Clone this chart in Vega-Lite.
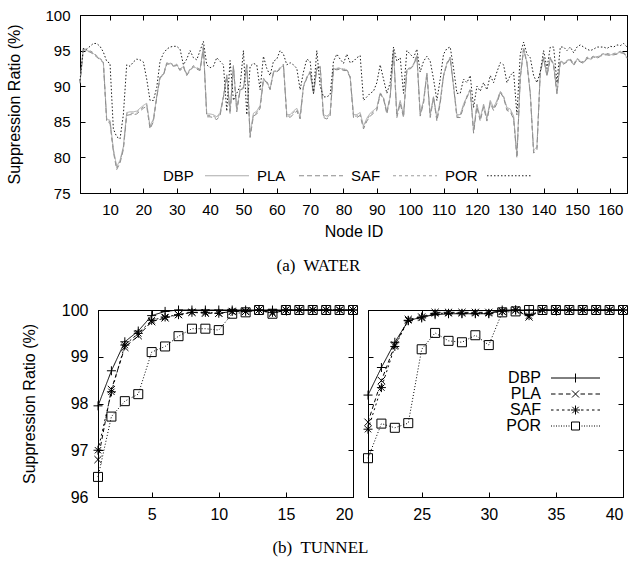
{
  "$schema": "https://vega.github.io/schema/vega-lite/v6.json",
  "background": "white",
  "padding": {"left": 6, "top": 7, "right": 4, "bottom": 4},
  "datasets": {
    "water": [
      {"n":1,"DBP":90.5,"PLA":90.4,"SAF":90.6,"POR":90.8},
      {"n":2,"DBP":95.3,"PLA":95.2,"SAF":95.4,"POR":95.3},
      {"n":3,"DBP":95.0,"PLA":94.9,"SAF":95.1,"POR":95.2},
      {"n":4,"DBP":94.9,"PLA":94.8,"SAF":95.0,"POR":95.6},
      {"n":5,"DBP":94.6,"PLA":94.5,"SAF":94.7,"POR":96.0},
      {"n":6,"DBP":94.2,"PLA":94.1,"SAF":94.3,"POR":96.0},
      {"n":7,"DBP":93.8,"PLA":93.7,"SAF":93.9,"POR":95.6},
      {"n":8,"DBP":93.4,"PLA":93.3,"SAF":93.5,"POR":94.8},
      {"n":9,"DBP":85.4,"PLA":85.0,"SAF":85.2,"POR":93.5},
      {"n":10,"DBP":85.2,"PLA":84.8,"SAF":85.0,"POR":93.2},
      {"n":11,"DBP":81.2,"PLA":80.8,"SAF":81.0,"POR":84.0},
      {"n":12,"DBP":78.7,"PLA":78.3,"SAF":78.5,"POR":82.9},
      {"n":13,"DBP":79.6,"PLA":79.2,"SAF":79.4,"POR":82.6},
      {"n":14,"DBP":81.5,"PLA":81.1,"SAF":81.3,"POR":86.0},
      {"n":15,"DBP":86.3,"PLA":85.9,"SAF":86.1,"POR":93.0},
      {"n":16,"DBP":86.4,"PLA":86.0,"SAF":86.2,"POR":92.8},
      {"n":17,"DBP":86.4,"PLA":86.0,"SAF":86.2,"POR":93.4},
      {"n":18,"DBP":86.5,"PLA":86.1,"SAF":86.3,"POR":93.8},
      {"n":19,"DBP":86.9,"PLA":86.5,"SAF":86.7,"POR":93.7},
      {"n":20,"DBP":87.3,"PLA":86.9,"SAF":87.1,"POR":93.4},
      {"n":21,"DBP":87.6,"PLA":87.2,"SAF":87.4,"POR":91.0},
      {"n":22,"DBP":84.4,"PLA":84.0,"SAF":84.2,"POR":88.0},
      {"n":23,"DBP":85.4,"PLA":85.0,"SAF":85.2,"POR":88.0},
      {"n":24,"DBP":88.5,"PLA":88.4,"SAF":88.6,"POR":89.8},
      {"n":25,"DBP":91.3,"PLA":91.2,"SAF":91.4,"POR":93.5},
      {"n":26,"DBP":91.6,"PLA":91.5,"SAF":91.7,"POR":94.6},
      {"n":27,"DBP":93.2,"PLA":93.1,"SAF":93.3,"POR":95.2},
      {"n":28,"DBP":93.2,"PLA":93.1,"SAF":93.3,"POR":95.5},
      {"n":29,"DBP":92.9,"PLA":92.8,"SAF":93.0,"POR":95.6},
      {"n":30,"DBP":93.0,"PLA":92.9,"SAF":93.1,"POR":95.6},
      {"n":31,"DBP":92.3,"PLA":92.2,"SAF":92.4,"POR":95.2},
      {"n":32,"DBP":92.8,"PLA":92.7,"SAF":92.9,"POR":93.0},
      {"n":33,"DBP":91.6,"PLA":91.5,"SAF":91.7,"POR":93.8},
      {"n":34,"DBP":92.3,"PLA":92.2,"SAF":92.4,"POR":95.0},
      {"n":35,"DBP":92.8,"PLA":92.7,"SAF":92.9,"POR":94.0},
      {"n":36,"DBP":92.5,"PLA":92.4,"SAF":92.6,"POR":93.7},
      {"n":37,"DBP":92.3,"PLA":92.2,"SAF":92.4,"POR":95.0},
      {"n":38,"DBP":95.5,"PLA":95.4,"SAF":95.6,"POR":96.3},
      {"n":39,"DBP":86.1,"PLA":85.7,"SAF":85.9,"POR":93.0},
      {"n":40,"DBP":86.1,"PLA":85.7,"SAF":85.9,"POR":92.6},
      {"n":41,"DBP":86.0,"PLA":85.6,"SAF":85.8,"POR":92.8},
      {"n":42,"DBP":85.7,"PLA":85.3,"SAF":85.5,"POR":94.0},
      {"n":43,"DBP":86.3,"PLA":85.9,"SAF":86.1,"POR":93.5},
      {"n":44,"DBP":88.5,"PLA":88.4,"SAF":88.6,"POR":93.0},
      {"n":45,"DBP":91.5,"PLA":91.4,"SAF":91.6,"POR":86.5},
      {"n":46,"DBP":86.5,"PLA":86.1,"SAF":86.3,"POR":93.6},
      {"n":47,"DBP":92.8,"PLA":92.7,"SAF":92.9,"POR":88.0},
      {"n":48,"DBP":86.8,"PLA":86.4,"SAF":86.6,"POR":89.0},
      {"n":49,"DBP":89.5,"PLA":89.4,"SAF":89.6,"POR":90.0},
      {"n":50,"DBP":89.8,"PLA":89.7,"SAF":89.9,"POR":95.0},
      {"n":51,"DBP":93.0,"PLA":92.9,"SAF":93.1,"POR":86.0},
      {"n":52,"DBP":83.2,"PLA":82.8,"SAF":83.0,"POR":92.8},
      {"n":53,"DBP":86.2,"PLA":85.8,"SAF":86.0,"POR":93.2},
      {"n":54,"DBP":86.5,"PLA":86.1,"SAF":86.3,"POR":93.0},
      {"n":55,"DBP":87.3,"PLA":86.9,"SAF":87.1,"POR":89.5},
      {"n":56,"DBP":91.0,"PLA":90.9,"SAF":91.1,"POR":94.2},
      {"n":57,"DBP":90.6,"PLA":90.5,"SAF":90.7,"POR":92.5},
      {"n":58,"DBP":89.6,"PLA":89.5,"SAF":89.7,"POR":91.5},
      {"n":59,"DBP":92.0,"PLA":91.9,"SAF":92.1,"POR":93.5},
      {"n":60,"DBP":92.1,"PLA":92.0,"SAF":92.2,"POR":93.8},
      {"n":61,"DBP":92.5,"PLA":92.4,"SAF":92.6,"POR":95.0},
      {"n":62,"DBP":93.0,"PLA":92.9,"SAF":93.1,"POR":94.5},
      {"n":63,"DBP":86.0,"PLA":85.6,"SAF":85.8,"POR":93.0},
      {"n":64,"DBP":86.0,"PLA":85.6,"SAF":85.8,"POR":93.3},
      {"n":65,"DBP":86.5,"PLA":86.1,"SAF":86.3,"POR":93.0},
      {"n":66,"DBP":86.9,"PLA":86.5,"SAF":86.7,"POR":92.5},
      {"n":67,"DBP":85.8,"PLA":85.4,"SAF":85.6,"POR":89.5},
      {"n":68,"DBP":90.0,"PLA":89.9,"SAF":90.1,"POR":92.0},
      {"n":69,"DBP":91.2,"PLA":91.1,"SAF":91.3,"POR":93.8},
      {"n":70,"DBP":92.0,"PLA":91.9,"SAF":92.1,"POR":93.5},
      {"n":71,"DBP":89.0,"PLA":88.9,"SAF":89.1,"POR":89.0},
      {"n":72,"DBP":92.5,"PLA":92.4,"SAF":92.6,"POR":95.0},
      {"n":73,"DBP":92.8,"PLA":92.7,"SAF":92.9,"POR":90.0},
      {"n":74,"DBP":86.0,"PLA":85.6,"SAF":85.8,"POR":88.5},
      {"n":75,"DBP":85.8,"PLA":85.4,"SAF":85.6,"POR":88.5},
      {"n":76,"DBP":86.2,"PLA":85.8,"SAF":86.0,"POR":88.8},
      {"n":77,"DBP":92.5,"PLA":92.4,"SAF":92.6,"POR":93.5},
      {"n":78,"DBP":92.4,"PLA":92.3,"SAF":92.5,"POR":94.5},
      {"n":79,"DBP":92.5,"PLA":92.4,"SAF":92.6,"POR":93.8},
      {"n":80,"DBP":92.3,"PLA":92.2,"SAF":92.4,"POR":93.2},
      {"n":81,"DBP":92.3,"PLA":92.2,"SAF":92.4,"POR":94.5},
      {"n":82,"DBP":91.3,"PLA":91.2,"SAF":91.4,"POR":93.3},
      {"n":83,"DBP":86.0,"PLA":85.6,"SAF":85.8,"POR":93.5},
      {"n":84,"DBP":86.0,"PLA":85.6,"SAF":85.8,"POR":94.0},
      {"n":85,"DBP":86.3,"PLA":85.9,"SAF":86.1,"POR":94.3},
      {"n":86,"DBP":84.4,"PLA":84.0,"SAF":84.2,"POR":88.0},
      {"n":87,"DBP":85.5,"PLA":85.1,"SAF":85.3,"POR":88.5},
      {"n":88,"DBP":86.2,"PLA":85.8,"SAF":86.0,"POR":89.0},
      {"n":89,"DBP":86.6,"PLA":86.2,"SAF":86.4,"POR":89.3},
      {"n":90,"DBP":87.0,"PLA":86.6,"SAF":86.8,"POR":90.5},
      {"n":91,"DBP":89.0,"PLA":88.9,"SAF":89.1,"POR":93.0},
      {"n":92,"DBP":88.3,"PLA":88.2,"SAF":88.4,"POR":91.0},
      {"n":93,"DBP":86.5,"PLA":86.1,"SAF":86.3,"POR":89.0},
      {"n":94,"DBP":88.5,"PLA":88.4,"SAF":88.6,"POR":90.5},
      {"n":95,"DBP":95.0,"PLA":94.9,"SAF":95.1,"POR":95.5},
      {"n":96,"DBP":86.0,"PLA":85.6,"SAF":85.8,"POR":93.5},
      {"n":97,"DBP":88.0,"PLA":87.6,"SAF":87.8,"POR":94.0},
      {"n":98,"DBP":86.0,"PLA":85.6,"SAF":85.8,"POR":89.0},
      {"n":99,"DBP":92.3,"PLA":92.2,"SAF":92.4,"POR":95.0},
      {"n":100,"DBP":92.5,"PLA":92.4,"SAF":92.6,"POR":94.5},
      {"n":101,"DBP":93.0,"PLA":92.9,"SAF":93.1,"POR":94.0},
      {"n":102,"DBP":94.3,"PLA":94.2,"SAF":94.4,"POR":95.2},
      {"n":103,"DBP":86.2,"PLA":85.8,"SAF":86.0,"POR":92.0},
      {"n":104,"DBP":88.0,"PLA":87.6,"SAF":87.8,"POR":93.5},
      {"n":105,"DBP":91.8,"PLA":91.7,"SAF":91.9,"POR":94.2},
      {"n":106,"DBP":86.0,"PLA":85.6,"SAF":85.8,"POR":93.5},
      {"n":107,"DBP":88.5,"PLA":88.4,"SAF":88.6,"POR":91.0},
      {"n":108,"DBP":85.5,"PLA":85.1,"SAF":85.3,"POR":88.0},
      {"n":109,"DBP":88.0,"PLA":87.6,"SAF":87.8,"POR":91.0},
      {"n":110,"DBP":91.5,"PLA":91.4,"SAF":91.6,"POR":94.5},
      {"n":111,"DBP":93.2,"PLA":93.1,"SAF":93.3,"POR":95.3},
      {"n":112,"DBP":94.0,"PLA":93.9,"SAF":94.1,"POR":95.5},
      {"n":113,"DBP":90.0,"PLA":89.9,"SAF":90.1,"POR":92.5},
      {"n":114,"DBP":86.0,"PLA":85.6,"SAF":85.8,"POR":89.0},
      {"n":115,"DBP":86.0,"PLA":85.6,"SAF":85.8,"POR":89.0},
      {"n":116,"DBP":87.5,"PLA":87.1,"SAF":87.3,"POR":91.0},
      {"n":117,"DBP":88.5,"PLA":88.4,"SAF":88.6,"POR":90.5},
      {"n":118,"DBP":89.5,"PLA":89.4,"SAF":89.6,"POR":91.5},
      {"n":119,"DBP":83.8,"PLA":83.4,"SAF":83.6,"POR":87.0},
      {"n":120,"DBP":87.5,"PLA":87.1,"SAF":87.3,"POR":90.0},
      {"n":121,"DBP":85.5,"PLA":85.1,"SAF":85.3,"POR":89.3},
      {"n":122,"DBP":87.5,"PLA":87.1,"SAF":87.3,"POR":90.5},
      {"n":123,"DBP":85.5,"PLA":85.1,"SAF":85.3,"POR":89.5},
      {"n":124,"DBP":88.0,"PLA":87.6,"SAF":87.8,"POR":91.5},
      {"n":125,"DBP":87.0,"PLA":86.6,"SAF":86.8,"POR":90.5},
      {"n":126,"DBP":88.0,"PLA":87.6,"SAF":87.8,"POR":92.0},
      {"n":127,"DBP":89.2,"PLA":89.1,"SAF":89.3,"POR":93.3},
      {"n":128,"DBP":88.5,"PLA":88.4,"SAF":88.6,"POR":93.0},
      {"n":129,"DBP":87.0,"PLA":86.6,"SAF":86.8,"POR":90.5},
      {"n":130,"DBP":86.8,"PLA":86.4,"SAF":86.6,"POR":91.5},
      {"n":131,"DBP":85.8,"PLA":85.4,"SAF":85.6,"POR":92.0},
      {"n":132,"DBP":80.3,"PLA":79.9,"SAF":80.1,"POR":86.0},
      {"n":133,"DBP":91.2,"PLA":91.1,"SAF":91.3,"POR":94.5},
      {"n":134,"DBP":95.3,"PLA":95.2,"SAF":95.4,"POR":96.2},
      {"n":135,"DBP":93.3,"PLA":93.2,"SAF":93.4,"POR":94.5},
      {"n":136,"DBP":89.0,"PLA":88.9,"SAF":89.1,"POR":94.0},
      {"n":137,"DBP":81.0,"PLA":80.6,"SAF":80.8,"POR":91.5},
      {"n":138,"DBP":81.5,"PLA":81.1,"SAF":81.3,"POR":90.5},
      {"n":139,"DBP":92.0,"PLA":91.9,"SAF":92.1,"POR":92.0},
      {"n":140,"DBP":94.0,"PLA":93.9,"SAF":94.1,"POR":95.0},
      {"n":141,"DBP":91.5,"PLA":91.4,"SAF":91.6,"POR":92.5},
      {"n":142,"DBP":94.0,"PLA":93.9,"SAF":94.1,"POR":95.5},
      {"n":143,"DBP":93.0,"PLA":92.9,"SAF":93.1,"POR":95.5},
      {"n":144,"DBP":89.0,"PLA":88.9,"SAF":89.1,"POR":90.5},
      {"n":145,"DBP":93.5,"PLA":93.4,"SAF":93.6,"POR":95.5},
      {"n":146,"DBP":93.2,"PLA":93.1,"SAF":93.3,"POR":95.5},
      {"n":147,"DBP":93.5,"PLA":93.4,"SAF":93.6,"POR":95.0},
      {"n":148,"DBP":93.8,"PLA":93.7,"SAF":93.9,"POR":95.5},
      {"n":149,"DBP":93.0,"PLA":92.9,"SAF":93.1,"POR":94.7},
      {"n":150,"DBP":93.8,"PLA":93.7,"SAF":93.9,"POR":95.5},
      {"n":151,"DBP":93.5,"PLA":93.4,"SAF":93.6,"POR":95.8},
      {"n":152,"DBP":93.3,"PLA":93.2,"SAF":93.4,"POR":95.5},
      {"n":153,"DBP":94.0,"PLA":93.9,"SAF":94.1,"POR":95.2},
      {"n":154,"DBP":93.8,"PLA":93.7,"SAF":93.9,"POR":95.0},
      {"n":155,"DBP":94.2,"PLA":94.1,"SAF":94.3,"POR":95.2},
      {"n":156,"DBP":94.0,"PLA":93.9,"SAF":94.1,"POR":95.5},
      {"n":157,"DBP":94.3,"PLA":94.2,"SAF":94.4,"POR":95.5},
      {"n":158,"DBP":94.5,"PLA":94.4,"SAF":94.6,"POR":95.5},
      {"n":159,"DBP":94.5,"PLA":94.4,"SAF":94.6,"POR":95.3},
      {"n":160,"DBP":94.4,"PLA":94.3,"SAF":94.5,"POR":95.6},
      {"n":161,"DBP":94.5,"PLA":94.4,"SAF":94.6,"POR":95.5},
      {"n":162,"DBP":94.6,"PLA":94.5,"SAF":94.7,"POR":95.8},
      {"n":163,"DBP":94.8,"PLA":94.7,"SAF":94.9,"POR":95.7},
      {"n":164,"DBP":94.7,"PLA":94.6,"SAF":94.8,"POR":96.0},
      {"n":165,"DBP":94.0,"PLA":93.9,"SAF":94.1,"POR":95.5}
    ],
    "tunnel": [
      {"n":1,"DBP":97.95,"PLA":96.8,"SAF":97.0,"POR":96.43},
      {"n":2,"DBP":98.7,"PLA":98.3,"SAF":98.25,"POR":97.72},
      {"n":3,"DBP":99.32,"PLA":99.2,"SAF":99.25,"POR":98.05},
      {"n":4,"DBP":99.55,"PLA":99.45,"SAF":99.5,"POR":98.2},
      {"n":5,"DBP":99.88,"PLA":99.75,"SAF":99.78,"POR":99.1},
      {"n":6,"DBP":99.97,"PLA":99.83,"SAF":99.85,"POR":99.22},
      {"n":7,"DBP":100,"PLA":99.9,"SAF":99.9,"POR":99.44},
      {"n":8,"DBP":100,"PLA":99.95,"SAF":99.95,"POR":99.6},
      {"n":9,"DBP":100,"PLA":99.93,"SAF":99.95,"POR":99.6},
      {"n":10,"DBP":100,"PLA":99.93,"SAF":99.93,"POR":99.57},
      {"n":11,"DBP":100,"PLA":99.97,"SAF":99.97,"POR":99.92},
      {"n":12,"DBP":100,"PLA":99.97,"SAF":99.97,"POR":99.95},
      {"n":13,"DBP":100,"PLA":100,"SAF":100,"POR":100},
      {"n":14,"DBP":100,"PLA":99.93,"SAF":99.95,"POR":99.92},
      {"n":15,"DBP":100,"PLA":100,"SAF":100,"POR":100},
      {"n":16,"DBP":100,"PLA":100,"SAF":100,"POR":100},
      {"n":17,"DBP":100,"PLA":100,"SAF":100,"POR":100},
      {"n":18,"DBP":100,"PLA":100,"SAF":100,"POR":100},
      {"n":19,"DBP":100,"PLA":100,"SAF":100,"POR":100},
      {"n":20,"DBP":100,"PLA":100,"SAF":100,"POR":100},
      {"n":21,"DBP":98.18,"PLA":97.6,"SAF":97.45,"POR":96.83},
      {"n":22,"DBP":98.77,"PLA":98.49,"SAF":98.34,"POR":97.57},
      {"n":23,"DBP":99.31,"PLA":99.25,"SAF":99.22,"POR":97.48},
      {"n":24,"DBP":99.77,"PLA":99.8,"SAF":99.78,"POR":97.58},
      {"n":25,"DBP":99.85,"PLA":99.85,"SAF":99.83,"POR":99.16},
      {"n":26,"DBP":99.9,"PLA":99.95,"SAF":99.93,"POR":99.51},
      {"n":27,"DBP":99.92,"PLA":99.95,"SAF":99.93,"POR":99.34},
      {"n":28,"DBP":99.92,"PLA":99.95,"SAF":99.93,"POR":99.31},
      {"n":29,"DBP":99.92,"PLA":99.95,"SAF":99.93,"POR":99.46},
      {"n":30,"DBP":99.92,"PLA":99.95,"SAF":99.93,"POR":99.25},
      {"n":31,"DBP":100,"PLA":99.97,"SAF":99.97,"POR":99.95},
      {"n":32,"DBP":100,"PLA":100,"SAF":100,"POR":99.97},
      {"n":33,"DBP":100,"PLA":99.85,"SAF":99.88,"POR":100},
      {"n":34,"DBP":100,"PLA":100,"SAF":100,"POR":100},
      {"n":35,"DBP":100,"PLA":100,"SAF":100,"POR":100},
      {"n":36,"DBP":100,"PLA":100,"SAF":100,"POR":100},
      {"n":37,"DBP":100,"PLA":100,"SAF":100,"POR":100},
      {"n":38,"DBP":100,"PLA":100,"SAF":100,"POR":100},
      {"n":39,"DBP":100,"PLA":100,"SAF":100,"POR":100},
      {"n":40,"DBP":100,"PLA":100,"SAF":100,"POR":100}
    ]
  },
  "vconcat": [
    {
      "width": 547,
      "height": 178,
      "data": {"name": "water"},
      "transform": [{"fold": ["DBP", "PLA", "SAF", "POR"], "as": ["s", "v"]}],
      "title": {"text": "(a)\u00a0 WATER", "orient": "bottom", "anchor": "middle", "frame": "bounds", "offset": 19},
      "resolve": {"scale": {"x": "independent", "y": "independent"}},
      "layer": [
        {
          "mark": {"type": "line", "strokeWidth": 1},
          "encoding": {
            "x": {"field": "n", "type": "quantitative", "scale": {"domain": [1, 165], "nice": false, "zero": false},
                  "axis": {"orient": "bottom", "values": [10,20,30,40,50,60,70,80,90,100,110,120,130,140,150,160], "title": "Node ID", "titlePadding": 6, "labelPadding": 14}},
            "y": {"field": "v", "type": "quantitative", "scale": {"domain": [75, 100], "nice": false, "zero": false},
                  "axis": {"orient": "left", "values": [75,80,85,90,95,100], "title": "Suppression Ratio (%)", "titlePadding": 22, "labelPadding": 15}},
            "color": {"field": "s", "type": "nominal",
                      "scale": {"domain": ["DBP", "PLA", "SAF", "POR"], "range": ["#ababab", "#8a8a8a", "#9c9c9c", "#1e1e1e"]},
                      "legend": {"orient": "none", "legendX": 83, "legendY": 153, "direction": "horizontal", "title": null,
                                 "symbolType": "M34.5,0H78.5", "symbolSize": 4, "symbolStrokeWidth": 1, "labelFontSize": 15,
                                 "labelAlign": "left", "columnPadding": 6, "padding": 0}},
            "strokeDash": {"field": "s", "type": "nominal",
                           "scale": {"domain": ["DBP", "PLA", "SAF", "POR"], "range": [[1, 0], [5, 3], [3, 3], [1.5, 2]]},
                           "legend": {"orient": "none", "legendX": 83, "legendY": 153, "direction": "horizontal", "title": null,
                                      "symbolType": "M34.5,0H78.5", "symbolSize": 4, "symbolStrokeWidth": 1, "labelFontSize": 15,
                                      "labelAlign": "left", "columnPadding": 6, "padding": 0}}
          }
        },
        {
          "mark": {"type": "point", "opacity": 0},
          "encoding": {
            "x": {"field": "n", "type": "quantitative", "scale": {"domain": [1, 165], "nice": false, "zero": false},
                  "axis": {"orient": "top", "labels": false, "title": null, "values": [10,20,30,40,50,60,70,80,90,100,110,120,130,140,150,160]}},
            "y": {"field": "v", "type": "quantitative", "scale": {"domain": [75, 100], "nice": false, "zero": false},
                  "axis": {"orient": "right", "labels": false, "title": null, "values": [75,80,85,90,95,100]}}
          }
        }
      ]
    },
    {
      "title": {"text": "(b)\u00a0 TUNNEL", "orient": "bottom", "anchor": "middle", "frame": "bounds", "offset": 17, "dx": -5},
      "bounds": "flush",
      "spacing": 15,
      "resolve": {"scale": {"strokeDash": "independent", "shape": "independent"}},
      "hconcat": [
        {
          "width": 3,
          "height": 187,
          "view": {"stroke": null},
          "data": {"values": [{"a": 1}]},
          "mark": {"type": "text"},
          "encoding": {}
        },
        {
          "width": 255,
          "height": 187,
          "data": {"name": "tunnel"},
          "transform": [{"filter": "datum.n <= 20"}, {"fold": ["DBP", "PLA", "SAF", "POR"], "as": ["s", "v"]}],
          "resolve": {"scale": {"x": "independent", "y": "independent"}},
          "layer": [
            {
              "layer": [
                {
                  "mark": {"type": "line", "color": "black", "strokeWidth": 1},
                  "encoding": {
                    "x": {"field": "n", "type": "quantitative", "scale": {"domain": [1, 20], "nice": false, "zero": false},
                          "axis": {"orient": "bottom", "values": [5, 10, 15, 20], "title": null, "labelFontSize": 16, "labelPadding": 14}},
                    "y": {"field": "v", "type": "quantitative", "scale": {"domain": [96, 100], "nice": false, "zero": false},
                          "axis": {"orient": "left", "values": [96, 97, 98, 99, 100], "title": "Suppression Ratio (%)", "labelFontSize": 16, "titlePadding": 24, "labelPadding": 15}},
                    "strokeDash": {"field": "s", "type": "nominal",
                                   "scale": {"domain": ["DBP", "PLA", "SAF", "POR"], "range": [[1, 0], [4, 3], [2, 3], [1, 2]]}, "legend": null}
                  }
                },
                {
                  "mark": {"type": "point", "filled": false, "color": "black", "strokeWidth": 1, "size": 81, "opacity": 1},
                  "encoding": {
                    "x": {"field": "n", "type": "quantitative"},
                    "y": {"field": "v", "type": "quantitative"},
                    "shape": {"field": "s", "type": "nominal",
                              "scale": {"domain": ["DBP", "PLA", "SAF", "POR"],
                                        "range": ["M-1,0H1M0,-1V1", "M-0.8,-0.8L0.8,0.8M-0.8,0.8L0.8,-0.8", "M-1,0H1M0,-1V1M-0.7,-0.7L0.7,0.7M-0.7,0.7L0.7,-0.7", "square"]},
                              "legend": null}
                  }
                }
              ]
            },
            {
              "mark": {"type": "point", "opacity": 0},
              "encoding": {
                "x": {"field": "n", "type": "quantitative", "scale": {"domain": [1, 20], "nice": false, "zero": false},
                      "axis": {"orient": "top", "labels": false, "title": null, "values": [5, 10, 15, 20]}},
                "y": {"field": "v", "type": "quantitative", "scale": {"domain": [96, 100], "nice": false, "zero": false},
                      "axis": {"orient": "right", "labels": false, "title": null, "values": [96, 97, 98, 99, 100]}}
              }
            }
          ]
        },
        {
          "width": 255,
          "height": 187,
          "data": {"name": "tunnel"},
          "transform": [{"filter": "datum.n > 20"}, {"fold": ["DBP", "PLA", "SAF", "POR"], "as": ["s", "v"]}],
          "resolve": {"scale": {"x": "independent", "y": "independent"}},
          "layer": [
            {
              "resolve": {"scale": {"shape": "independent"}},
              "layer": [
                {
                  "mark": {"type": "line", "color": "black", "strokeWidth": 1},
                  "encoding": {
                    "x": {"field": "n", "type": "quantitative", "scale": {"domain": [21, 40], "nice": false, "zero": false},
                          "axis": {"orient": "bottom", "values": [25, 30, 35, 40], "title": null, "labelFontSize": 16, "labelPadding": 14}},
                    "y": {"field": "v", "type": "quantitative", "scale": {"domain": [96, 100], "nice": false, "zero": false},
                          "axis": {"orient": "left", "values": [96, 97, 98, 99, 100], "labels": false, "title": null}},
                    "strokeDash": {"field": "s", "type": "nominal",
                                   "scale": {"domain": ["DBP", "PLA", "SAF", "POR"], "range": [[1, 0], [4, 3], [2, 3], [1, 2]]}, "legend": null}
                  }
                },
                {
                  "mark": {"type": "point", "filled": false, "color": "black", "strokeWidth": 1, "size": 81, "opacity": 1},
                  "encoding": {
                    "x": {"field": "n", "type": "quantitative"},
                    "y": {"field": "v", "type": "quantitative"},
                    "shape": {"field": "s", "type": "nominal",
                              "scale": {"domain": ["DBP", "PLA", "SAF", "POR"],
                                        "range": ["M-1,0H1M0,-1V1", "M-0.8,-0.8L0.8,0.8M-0.8,0.8L0.8,-0.8", "M-1,0H1M0,-1V1M-0.7,-0.7L0.7,0.7M-0.7,0.7L0.7,-0.7", "square"]},
                              "legend": null}
                  }
                },
                {
                  "transform": [{"filter": "datum.n < 0"}],
                  "mark": {"type": "point", "filled": false, "color": "black", "strokeWidth": 1, "opacity": 1},
                  "encoding": {
                    "x": {"field": "n", "type": "quantitative"},
                    "y": {"field": "v", "type": "quantitative"},
                    "shape": {"field": "s", "type": "nominal",
                              "scale": {"domain": ["DBP", "PLA", "SAF", "POR"],
                                        "range": [
                                          "M-59,0M3,0H52M27.5,-4.5V4.5",
                                          "M-59,0M3,0H7.5M10.5,0H15M18,0H22.5M32.5,0H37M40,0H44.5M47.5,0H52M24,-3.5L31,3.5M24,3.5L31,-3.5",
                                          "M-59,0M3,0H5.5M8.5,0H11M14,0H16.5M19.5,0H22M33,0H35.5M38.5,0H41M44,0H46.5M49.5,0H52M23,0H32M27.5,-4.5V4.5M24.3,-3.2L30.7,3.2M24.3,3.2L30.7,-3.2",
                                          "M-59,0M3,0H4M5.5,0H6.5M8,0H9M10.5,0H11.5M13,0H14M15.5,0H16.5M18,0H19M20.5,0H21.5M33.5,0H34.5M36,0H37M38.5,0H39.5M41,0H42M43.5,0H44.5M46,0H47M48.5,0H49.5M51,0H52M23.5,-4H31.5V4H23.5Z"
                                        ]},
                              "legend": {"orient": "none", "legendX": 172, "legendY": 60, "title": null,
                                         "symbolSize": 4, "symbolStrokeColor": "black", "symbolStrokeWidth": 1,
                                         "symbolFillColor": "transparent", "symbolOpacity": 1, "labelFontSize": 16, "labelAlign": "right",
                                         "rowPadding": -1, "padding": 0}}
                  }
                }
              ]
            },
            {
              "mark": {"type": "point", "opacity": 0},
              "encoding": {
                "x": {"field": "n", "type": "quantitative", "scale": {"domain": [21, 40], "nice": false, "zero": false},
                      "axis": {"orient": "top", "labels": false, "title": null, "values": [25, 30, 35, 40]}},
                "y": {"field": "v", "type": "quantitative", "scale": {"domain": [96, 100], "nice": false, "zero": false},
                      "axis": {"orient": "right", "labels": false, "title": null, "values": [96, 97, 98, 99, 100]}}
              }
            }
          ]
        }
      ]
    }
  ],
  "spacing": 117,
  "bounds": "flush",
  "resolve": {"scale": {"color": "independent", "strokeDash": "independent", "shape": "independent"}},
  "config": {
    "font": "Liberation Sans",
    "view": {"stroke": "black", "strokeWidth": 1},
    "axis": {"grid": false, "domainColor": "black", "domainWidth": 1, "tickColor": "black", "tickWidth": 1,
             "tickSize": -5, "labelColor": "black", "titleColor": "black", "labelFont": "Liberation Sans",
             "titleFont": "Liberation Sans", "labelFontSize": 15, "titleFontSize": 16, "titleFontWeight": "normal",
             "labelPadding": 14},
    "legend": {"labelFont": "Liberation Sans", "labelColor": "black", "labelOffset": -15},
    "title": {"font": "Liberation Serif", "fontWeight": "normal", "fontSize": 17, "color": "black"}
  }
}
